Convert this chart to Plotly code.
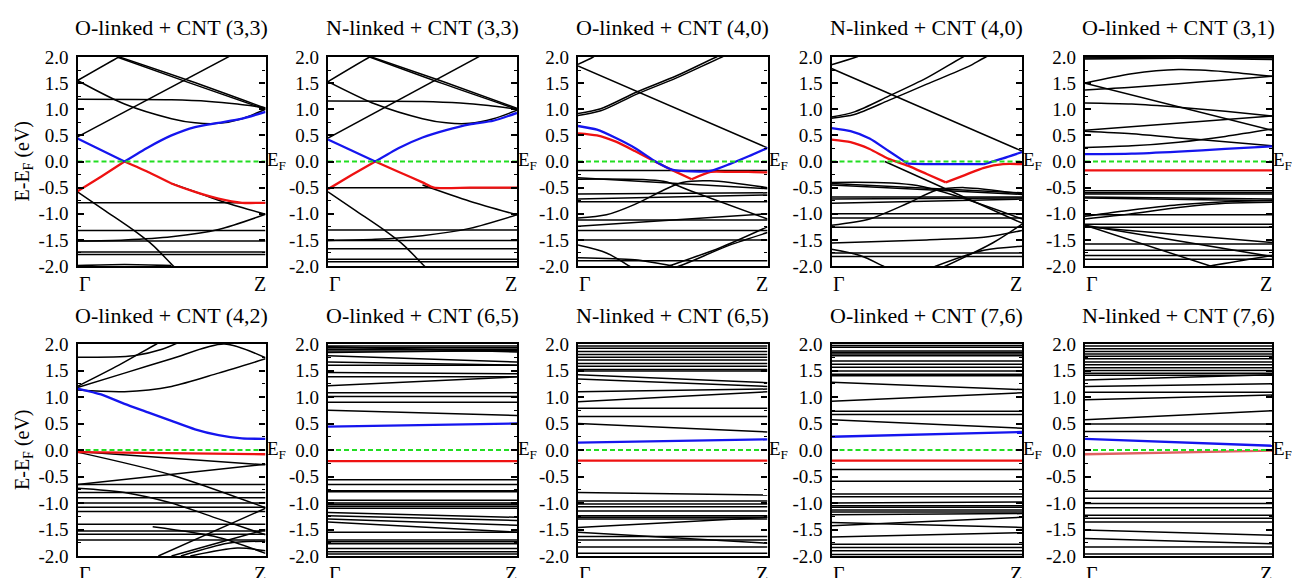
import plotly.graph_objects as go

# ---------------- data ----------------
K2 = [0, 1]
K5 = [0, 0.25, 0.5, 0.75, 1]
K9 = [0, 0.125, 0.25, 0.375, 0.5, 0.625, 0.75, 0.875, 1]
K11 = [0, 0.1, 0.2, 0.3, 0.4, 0.5, 0.6, 0.7, 0.8, 0.9, 1]

TITLES = ["O-linked + CNT (3,3)", "N-linked + CNT (3,3)", "O-linked + CNT (4,0)",
          "N-linked + CNT (4,0)", "O-linked + CNT (3,1)", "O-linked + CNT (4,2)",
          "O-linked + CNT (6,5)", "N-linked + CNT (6,5)", "O-linked + CNT (7,6)",
          "N-linked + CNT (7,6)"]
K_LABELS = ["Γ", "Z"]
Y_TICKS = [-2.0, -1.5, -1.0, -0.5, 0.0, 0.5, 1.0, 1.5, 2.0]
Y_TICK_TEXT = ["-2.0", "-1.5", "-1.0", "-0.5", "0.0", "0.5", "1.0", "1.5", "2.0"]

# Colored bands: None separates the two branches that meet at a band crossing
# Panel 1: O-linked + CNT (3,3)
P1_BLUE = ([0, 0.125, 0.25, None, 0.25, 0.375, 0.5, 0.625, 0.75, 0.875, 1],
           [0.44, 0.22, 0.0, None, 0.0, 0.27, 0.5, 0.66, 0.74, 0.82, 0.95])
P1_RED = ([0, 0.125, 0.25, None, 0.25, 0.375, 0.5, 0.625, 0.75, 0.875, 1],
          [-0.57, -0.29, 0.0, None, 0.0, -0.2, -0.42, -0.58, -0.71, -0.79, -0.79])
P1_FLAT = [-0.79, -1.32, -1.52, -1.73, -1.78]
P1_STRAIGHT = [[0.47, 2.38]]
P1_CURVES = [
    ([0, 0.25, 0.5, 0.75, 1], [-1.52, -1.5, -1.44, -1.3, -1.01]),
    ([0, 0.15, 0.3, 0.4, 0.51, 0.6], [-0.58, -0.95, -1.32, -1.6, -2.0, -2.3]),
    ([0.5, 0.625, 0.75, 0.875, 1], [-0.42, -0.58, -0.74, -0.88, -1.01]),
    ([0, 0.25, 0.5], [-1.99, -1.97, -1.99]),
    ([0, 0.22, 0.3], [1.55, 2.0, 2.15]),
    ([0, 0.25, 0.5, 0.625, 0.75, 0.875, 1], [1.55, 1.1, 0.82, 0.74, 0.73, 0.82, 1.0]),
    ([0.21, 0.6, 1], [2.0, 1.5, 1.0]),
    ([0.14, 0.6, 1], [2.1, 1.54, 1.02]),
    ([0, 0.5, 0.7, 0.85, 1], [1.19, 1.18, 1.15, 1.1, 1.03]),
]

# Panel 2: N-linked + CNT (3,3)
P2_BLUE = ([0, 0.125, 0.25, None, 0.25, 0.375, 0.5, 0.625, 0.75, 0.875, 1],
           [0.42, 0.21, 0.0, None, 0.0, 0.26, 0.46, 0.6, 0.71, 0.78, 0.93])
P2_RED = ([0, 0.125, 0.25, None, 0.25, 0.375, 0.5, 0.56, 0.75, 1],
          [-0.53, -0.26, 0.0, None, 0.0, -0.2, -0.4, -0.5, -0.5, -0.5])
P2_FLAT = [-0.5, -1.31, -1.51, -1.67, -1.87, -1.92]
P2_STRAIGHT = [[0.45, 2.4]]
P2_CURVES = [
    ([0, 0.25, 0.5, 0.75, 1], [-1.51, -1.49, -1.42, -1.28, -1.02]),
    ([0, 0.15, 0.3, 0.4, 0.51, 0.6], [-0.58, -0.95, -1.32, -1.6, -2.0, -2.3]),
    ([0.5, 0.75, 1], [-0.45, -0.76, -1.02]),
    ([0, 0.5, 0.7, 0.85, 1], [1.16, 1.15, 1.12, 1.07, 1.0]),
    ([0, 0.22, 0.3], [1.53, 2.0, 2.15]),
    ([0, 0.25, 0.5, 0.625, 0.75, 0.875, 1], [1.53, 1.1, 0.82, 0.74, 0.73, 0.82, 0.98]),
    ([0.22, 0.6, 1], [2.0, 1.5, 1.0]),
    ([0.15, 0.6, 1], [2.1, 1.54, 1.02]),
]

# Panel 3: O-linked + CNT (4,0)
P3_BLUE = (K11, [0.68, 0.61, 0.45, 0.26, 0.02, -0.16, -0.19, -0.18, -0.05, 0.1, 0.26])
P3_RED = ([0, 0.1, 0.2, 0.3, 0.4, 0.5, 0.6, None, 0.6, 0.7, 0.8, 0.9, 1],
          [0.54, 0.5, 0.38, 0.2, 0.01, -0.17, -0.34, None, -0.34, -0.2, -0.2, -0.2, -0.21])
P3_FLAT = [-0.17, -0.77, -1.12, -1.32, -1.5, -1.9]
P3_STRAIGHT = [[1.83, 0.26], [-0.31, -0.52], [-0.62, -0.6], [-0.72, -0.64], [-1.24, -1.0]]
P3_CURVES = [
    ([0, 0.08, 0.2], [1.86, 2.0, 2.3]),
    ([0, 0.12, 0.31, 0.52, 0.73, 0.85], [0.92, 1.01, 1.33, 1.64, 2.0, 2.18]),
    ([0, 0.12, 0.31, 0.52, 0.76, 0.88], [0.88, 0.97, 1.29, 1.6, 2.0, 2.18]),
    ([0, 0.15, 0.3, 0.45, 0.55, 0.7, 1], [-1.08, -1.02, -0.82, -0.55, -0.4, -0.37, -0.5]),
    ([0, 0.45, 0.6, 1], [-0.34, -0.38, -0.57, -1.1]),
    ([0, 0.15, 0.27, 0.35], [-1.6, -1.75, -2.0, -2.2]),
    ([0.4, 0.48, 0.75, 1], [-2.1, -2.0, -1.65, -1.25]),
    ([0.45, 0.55, 0.8, 1], [-2.1, -1.98, -1.6, -1.36]),
    ([0, 0.3, 0.5], [-1.84, -1.88, -2.0]),
]

# Panel 4: N-linked + CNT (4,0)
P4_BLUE = ([0, 0.1, 0.2, 0.3, 0.4, None, 0.4, 0.5, 0.6, 0.7, 0.8, None, 0.8, 0.9, 1],
           [0.64, 0.58, 0.44, 0.2, -0.04, None, -0.04, -0.05, -0.05, -0.05, -0.05, None,
            -0.05, 0.06, 0.18])
P4_RED = ([0, 0.1, 0.2, 0.3, 0.4, 0.5, 0.6, None, 0.6, 0.7, 0.8, 0.9, 1],
          [0.42, 0.37, 0.24, 0.05, -0.08, -0.24, -0.4, None, -0.4, -0.26, -0.12, -0.05, -0.05])
P4_FLAT = [-1.0, -1.08, -1.26, -1.75, -1.82]
P4_STRAIGHT = [[1.78, 0.2], [-0.42, -0.6], [-0.45, -0.63], [-0.68, -0.68],
               [-0.72, -0.7], [-0.8, -0.72]]
P4_CURVES = [
    ([0, 0.13, 0.2], [1.85, 2.0, 2.1]),
    ([0, 0.12, 0.3, 0.5, 0.69, 0.8], [0.85, 0.95, 1.25, 1.6, 2.0, 2.2]),
    ([0, 0.12, 0.3, 0.5, 0.72, 0.81, 0.9], [0.83, 0.9, 1.17, 1.48, 1.82, 2.0, 2.12]),
    ([0.28, 1], [0.0, -1.18]),
    ([0, 0.45, 1], [-0.4, -0.46, -1.1]),
    ([0, 0.2, 0.4, 0.55, 0.7, 1], [-1.22, -1.1, -0.8, -0.55, -0.5, -0.62]),
    ([0, 0.5, 0.8, 1], [-1.56, -1.5, -1.45, -1.32]),
    ([0, 0.15, 0.27, 0.35], [-1.68, -1.8, -2.0, -2.15]),
    ([0.5, 0.55, 0.8, 1], [-2.08, -2.0, -1.7, -1.62]),
    ([0.55, 0.6, 0.85, 1], [-2.08, -2.0, -1.55, -1.2]),
]

# Panel 5: O-linked + CNT (3,1)
P5_BLUE = (K5, [0.14, 0.15, 0.19, 0.24, 0.29])
P5_RED = (K2, [-0.17, -0.17])
P5_FLAT = [1.98, -0.56, -0.6, -0.62, -1.02, -1.2, -1.26, -1.58, -1.7, -1.8, -1.87]
P5_STRAIGHT = [[1.96, 1.99], [2.0, 1.95], [1.5, 0.6], [0.6, 0.87],
               [-0.68, -0.72], [-0.7, -0.75], [-1.22, -1.82], [-1.25, -1.55]]
P5_CURVES = [
    ([0, 0.25, 0.5, 0.75, 1], [1.5, 1.68, 1.76, 1.72, 1.63]),
    ([0, 0.25, 0.5, 0.75, 1], [1.37, 1.42, 1.49, 1.56, 1.63]),
    ([0, 0.25, 0.5, 0.75, 1], [1.12, 1.1, 1.04, 0.96, 0.87]),
    ([0, 0.25, 0.5, 0.75, 1], [0.27, 0.3, 0.37, 0.48, 0.62]),
    ([0, 0.25, 0.5, 0.75, 1], [0.58, 0.53, 0.45, 0.38, 0.3]),
    ([0, 0.25, 0.5, 0.75, 1], [-1.05, -0.93, -0.83, -0.77, -0.74]),
    ([0, 0.25, 0.5, 0.75, 1], [-1.1, -1.0, -0.88, -0.8, -0.78]),
    ([0, 0.67, 0.8], [-1.22, -2.0, -2.15]),
    ([0.6, 0.67, 1], [-2.05, -2.0, -1.8]),
]

# Panel 6: O-linked + CNT (4,2)
P6_BLUE = (K9, [1.16, 1.05, 0.87, 0.71, 0.55, 0.39, 0.28, 0.22, 0.21])
P6_RED = (K2, [-0.04, -0.08])
P6_FLAT = [-0.65, -0.8, -0.9, -1.0, -1.08, -1.16, -1.4, -1.53, -1.59, -1.7]
P6_STRAIGHT = [[-0.03, -0.28], [-0.65, -0.27]]
P6_CURVES = [
    ([0, 0.5, 1], [-0.04, -0.47, -1.09]),
    ([0, 0.25, 0.5, 0.75, 1], [-0.72, -0.8, -1.0, -1.3, -1.6]),
    ([0.43, 1], [-2.0, -1.1]),
    ([0.5, 0.75, 1], [-2.0, -1.75, -1.5]),
    ([0.55, 0.8, 1], [-2.0, -1.76, -1.72]),
    ([0.6, 0.85, 1], [-2.0, -1.85, -1.9]),
    ([0.4, 0.75, 1], [-1.45, -1.65, -1.95]),
    ([0, 0.3, 0.45, 0.55], [1.75, 1.78, 1.9, 2.05]),
    ([0, 0.22, 0.42, 0.5], [1.2, 1.6, 2.0, 2.15]),
    ([0, 0.25, 0.5, 0.78, 1], [1.18, 1.45, 1.72, 2.0, 1.74]),
    ([0, 0.25, 0.5, 0.75, 1], [1.13, 1.1, 1.2, 1.45, 1.72]),
]

# Panel 7: O-linked + CNT (6,5)
P7_BLUE = (K2, [0.44, 0.5])
P7_RED = (K2, [-0.21, -0.21])
P7_FLAT = [1.96, 1.93, 1.9, 1.87, 1.6, 1.38, 1.08, 1.01, 0.9, -0.56, -0.65, -0.77,
           -0.79, -0.95, -1.0, -1.03, -1.06, -1.1, -1.55, -1.7, -1.73, -1.77, -1.86,
           -1.92, -1.96]
P7_STRAIGHT = [[1.78, 1.66], [1.66, 1.6], [1.46, 1.44], [1.21, 1.38], [0.75, 0.65],
               [-1.18, -1.27], [-1.24, -1.33], [-1.3, -1.42], [-1.36, -1.55],
               [1.84, 1.88], [1.95, 1.85]]
P7_CURVES = []

# Panel 8: N-linked + CNT (6,5)
P8_BLUE = (K2, [0.14, 0.2])
P8_RED = (K2, [-0.2, -0.2])
P8_FLAT = [1.96, 1.92, 1.86, 1.8, 1.75, 1.7, 1.63, 1.58, 1.52, 1.49, 0.79, 0.63,
           -0.96, -1.02, -1.07, -1.15, -1.24, -1.27, -1.3, -1.63, -1.7, -1.83, -1.95]
P8_STRAIGHT = [[1.42, 1.27], [1.34, 1.2], [1.1, 1.15], [0.91, 1.1], [0.5, 0.34],
               [-0.8, -0.85], [-1.46, -1.27], [-1.55, -1.76]]
P8_CURVES = []

# Panel 9: O-linked + CNT (7,6)
P9_BLUE = (K2, [0.25, 0.34])
P9_RED = (K2, [-0.2, -0.2])
P9_FLAT = [1.97, 1.94, 1.87, 1.84, 1.81, 1.78, 1.68, 1.62, 1.56, 1.49, 1.43, 1.4,
           0.73, 0.67, -0.37, -0.59, -0.83, -0.88, -1.05, -1.08, -1.13, -1.17,
           -1.78, -1.84, -1.9, -1.97]
P9_STRAIGHT = [[1.28, 1.14], [0.92, 1.08], [0.57, 0.41], [-1.37, -1.46],
               [-1.43, -1.27], [-1.64, -1.56], [-1.0, -0.98], [-1.22, -1.2]]
P9_CURVES = []

# Panel 10: N-linked + CNT (7,6)
P10_BLUE = (K2, [0.21, 0.08])
P10_RED = (K2, [-0.08, -0.01])
P10_FLAT = [1.96, 1.91, 1.86, 1.81, 1.77, 1.72, 1.66, 1.61, 1.55, 1.5, 1.45, 1.41,
            1.09, 0.49, 0.35, -0.78, -0.91, -1.01, -1.09, -1.23, -1.29, -1.36,
            -1.83, -1.96]
P10_STRAIGHT = [[1.32, 1.42], [0.95, 1.04], [0.57, 0.74], [-1.51, -1.61],
                [-1.67, -1.77], [1.2, 1.25]]
P10_CURVES = []

PANELS = [
    (P1_BLUE, P1_RED, P1_FLAT, P1_STRAIGHT, P1_CURVES),
    (P2_BLUE, P2_RED, P2_FLAT, P2_STRAIGHT, P2_CURVES),
    (P3_BLUE, P3_RED, P3_FLAT, P3_STRAIGHT, P3_CURVES),
    (P4_BLUE, P4_RED, P4_FLAT, P4_STRAIGHT, P4_CURVES),
    (P5_BLUE, P5_RED, P5_FLAT, P5_STRAIGHT, P5_CURVES),
    (P6_BLUE, P6_RED, P6_FLAT, P6_STRAIGHT, P6_CURVES),
    (P7_BLUE, P7_RED, P7_FLAT, P7_STRAIGHT, P7_CURVES),
    (P8_BLUE, P8_RED, P8_FLAT, P8_STRAIGHT, P8_CURVES),
    (P9_BLUE, P9_RED, P9_FLAT, P9_STRAIGHT, P9_CURVES),
    (P10_BLUE, P10_RED, P10_FLAT, P10_STRAIGHT, P10_CURVES),
]

# ---------------- layout ----------------
W, H = 1292, 578
COL_PX = [(77.5, 265.5), (328, 517), (578, 767.5), (831.5, 1022), (1085, 1272)]
ROW_PX = [(57, 266), (344, 556)]
FONT = "Liberation Serif"

fig = go.Figure()
layout = dict(width=W, height=H, margin=dict(l=0, r=0, t=0, b=0, autoexpand=False),
              template="none",
              paper_bgcolor="white", plot_bgcolor="white", showlegend=False,
              font=dict(family=FONT, size=19, color="black"))
annotations = []

for i, (blue, red, flat, straight, curves) in enumerate(PANELS):
    n = i + 1
    row, col = divmod(i, 5)
    x0, x1 = COL_PX[col]
    y0, y1 = ROW_PX[row]
    xa = "x" if n == 1 else f"x{n}"
    ya = "y" if n == 1 else f"y{n}"

    bx, by = [], []
    for e in flat:
        bx += [K2[0], K2[1], None]
        by += [e, e, None]
    for a, b in straight:
        bx += [K2[0], K2[1], None]
        by += [a, b, None]
    for ks, es in curves:
        bx += list(ks) + [None]
        by += list(es) + [None]
    fig.add_trace(go.Scatter(x=bx, y=by, mode="lines", xaxis=xa, yaxis=ya,
                             line=dict(color="black", width=1.5, shape="spline", smoothing=0.8),
                             hoverinfo="skip"))
    red_color = "#e06060" if n == 10 else "#ee1111"
    fig.add_trace(go.Scatter(x=red[0], y=red[1], mode="lines", xaxis=xa, yaxis=ya,
                             line=dict(color=red_color, width=2.3, shape="spline", smoothing=0.6)))
    fig.add_trace(go.Scatter(x=blue[0], y=blue[1], mode="lines", xaxis=xa, yaxis=ya,
                             line=dict(color="#1515ee", width=2.3, shape="spline", smoothing=0.6)))
    fig.add_trace(go.Scatter(x=K2, y=[0, 0], mode="lines", xaxis=xa, yaxis=ya,
                             line=dict(color="#22dd22", width=1.8, dash="5px,3px")))

    xkey = "xaxis" if n == 1 else f"xaxis{n}"
    ykey = "yaxis" if n == 1 else f"yaxis{n}"
    layout[xkey] = dict(domain=[x0 / W, x1 / W], range=[0, 1], anchor=ya,
                        automargin=False,
                        showgrid=False, zeroline=False, showticklabels=False,
                        ticks="", showline=True, linecolor="black", linewidth=2.2,
                        mirror=True, fixedrange=True)
    layout[ykey] = dict(domain=[1 - y1 / H, 1 - y0 / H], range=[-2, 2], anchor=xa,
                        automargin=False,
                        showgrid=False, zeroline=False, tickmode="array",
                        tickvals=Y_TICKS, ticktext=Y_TICK_TEXT,
                        ticks="inside", ticklen=6, tickwidth=1.5, tickcolor="black",
                        minor=dict(ticks="inside", ticklen=3, tickwidth=1, tickcolor="black",
                                   tickmode="linear", tick0=-2, dtick=0.25, showgrid=False),
                        showline=True, linecolor="black", linewidth=2.2, mirror="ticks",
                        tickfont=dict(family=FONT, size=19, color="black"),
                        ticklabelstandoff=3, fixedrange=True)

    annotations.append(dict(text=TITLES[i], xref="paper", yref="paper",
                            x=(x0 + x1) / 2 / W, y=1 - (y0 - 29) / H,
                            xanchor="center", yanchor="middle", showarrow=False,
                            font=dict(family=FONT, size=22, color="black")))
    annotations.append(dict(text="E<sub>F</sub>", xref=f"{xa} domain", yref=ya,
                            x=1, y=0, xanchor="left", yanchor="middle", xshift=-1,
                            showarrow=False, font=dict(family=FONT, size=19, color="black")))
    annotations.append(dict(text=K_LABELS[0], xref=f"{xa} domain", yref=f"{ya} domain",
                            x=0, y=0, xanchor="left", yanchor="top", yshift=-5, xshift=-1,
                            showarrow=False, font=dict(family=FONT, size=20, color="black")))
    annotations.append(dict(text=K_LABELS[1], xref=f"{xa} domain", yref=f"{ya} domain",
                            x=1, y=0, xanchor="right", yanchor="top", yshift=-5, xshift=2,
                            showarrow=False, font=dict(family=FONT, size=20, color="black")))

for row in range(2):
    y0, y1 = ROW_PX[row]
    annotations.append(dict(text="E-E<sub>F</sub> (eV)", xref="paper", yref="paper",
                            x=23 / W, y=1 - (y0 + y1) / 2 / H, textangle=-90,
                            xanchor="center", yanchor="middle", showarrow=False,
                            font=dict(family=FONT, size=20, color="black")))

layout["annotations"] = annotations
fig.update_layout(**layout)
fig.write_html("out.html")
